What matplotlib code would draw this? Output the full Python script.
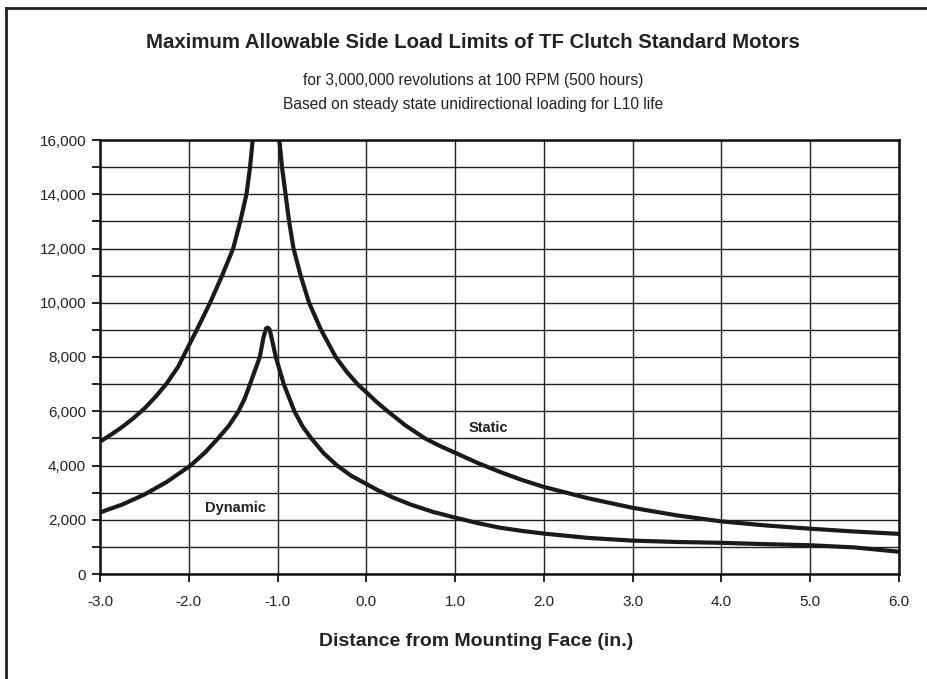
import matplotlib
matplotlib.use("Agg")
import matplotlib.pyplot as plt
from matplotlib.lines import Line2D
from matplotlib.ticker import MultipleLocator, FuncFormatter

plt.rcParams['font.family'] = ['Liberation Sans', 'DejaVu Sans']

# static curve, left branch (rises off the top of the chart)
static_left_x = [-3.0, -2.875, -2.75, -2.625, -2.5, -2.375, -2.25, -2.12, -2.0, -1.91,
                 -1.76, -1.625, -1.5, -1.42, -1.35, -1.31, -1.28]
static_left_y = [4880, 5140, 5420, 5740, 6100, 6530, 7020, 7640, 8420, 9000,
                 10000, 11000, 12000, 13000, 14000, 15000, 16000]

# static curve, right branch
static_right_x = [-0.98, -0.95, -0.91, -0.87, -0.82, -0.74, -0.645, -0.51, -0.345,
                  -0.22, -0.1, 0.0, 0.12, 0.24, 0.44, 0.66, 0.83, 1.0, 1.25, 1.5,
                  1.75, 2.0, 2.5, 3.0, 3.5, 4.0, 4.5, 5.0, 5.5, 6.0]
static_right_y = [16000, 15000, 14000, 13000, 12000, 11000, 10000, 9000, 8000,
                  7450, 7000, 6700, 6330, 6000, 5480, 5000, 4720, 4470, 4100, 3770,
                  3470, 3210, 2790, 2440, 2160, 1940, 1790, 1670, 1565, 1480]

# dynamic curve
dynamic_x = [-3.0, -2.75, -2.5, -2.25, -1.98, -1.82, -1.67, -1.55, -1.44, -1.37,
             -1.31, -1.2, -1.16, -1.13, -1.11, -1.09, -1.06, -1.02, -0.93, -0.81,
             -0.72, -0.62, -0.48, -0.33, -0.17, 0.0, 0.14, 0.3, 0.5, 0.75, 1.0,
             1.25, 1.5, 1.75, 2.0, 2.5, 3.0, 3.5, 4.0, 4.5, 5.0, 5.5, 6.0]
dynamic_y = [2270, 2560, 2930, 3390, 4000, 4470, 5000, 5460, 6000, 6470,
             7000, 8000, 8700, 9050, 9080, 9020, 8600, 8000, 7000, 6000,
             5450, 5000, 4450, 4000, 3620, 3320, 3070, 2820, 2560, 2290, 2080,
             1880, 1710, 1590, 1490, 1330, 1230, 1180, 1150, 1100, 1060, 980, 820]

x_ticks = [-3.0, -2.0, -1.0, 0.0, 1.0, 2.0, 3.0, 4.0, 5.0, 6.0]

fig = plt.figure(figsize=(9.27, 6.79), dpi=100)
ax = fig.add_axes([100 / 927, 1 - 574 / 679, 799 / 927, 434 / 679])

ax.set_xlim(-3, 6)
ax.set_ylim(0, 16000)
ax.set_xticks(x_ticks)
ax.xaxis.set_major_formatter(FuncFormatter(lambda v, p: f"{v:.1f}"))
ax.yaxis.set_major_locator(MultipleLocator(2000))
ax.yaxis.set_minor_locator(MultipleLocator(1000))
ax.yaxis.set_major_formatter(FuncFormatter(lambda v, p: f"{int(v):,}"))

ax.grid(True, which='both', axis='y', color='#222222', lw=1.0)
ax.grid(True, which='major', axis='x', color='#222222', lw=1.0)
ax.set_axisbelow(True)

for s in ax.spines.values():
    s.set_linewidth(1.8)
    s.set_color('#111111')

ax.tick_params(axis='both', which='both', direction='out', length=6, width=1.3,
               color='#111111', labelsize=11, labelcolor='#222222')
ax.tick_params(axis='x', pad=9)
ax.tick_params(axis='y', pad=4)

lw = 3.0
for xs, ys in [(static_left_x, static_left_y), (static_right_x, static_right_y),
               (dynamic_x, dynamic_y)]:
    ax.plot(xs, ys, color='#1a1a1a', lw=lw, solid_capstyle='butt', solid_joinstyle='round')

ax.text(1.37, 5400, "Static", fontsize=10.5, fontweight='bold', color='#222222',
        ha='center', va='center')
ax.text(-1.48, 2440, "Dynamic", fontsize=10.5, fontweight='bold', color='#222222',
        ha='center', va='center')

cx = 473 / 927
fig.text(476 / 927, 1 - 641 / 679, "Distance from Mounting Face (in.)", fontsize=14,
         fontweight='bold', color='#222222', ha='center', va='center')
fig.text(cx, 1 - 43 / 679, "Maximum Allowable Side Load Limits of TF Clutch Standard Motors",
         fontsize=14.7, fontweight='bold', color='#222222', ha='center', va='center')
fig.text(cx, 1 - 81 / 679, "for 3,000,000 revolutions at 100 RPM (500 hours)",
         fontsize=11.2, color='#222222', ha='center', va='center')
fig.text(cx, 1 - 104 / 679, "Based on steady state unidirectional loading for L10 life",
         fontsize=11.2, color='#222222', ha='center', va='center')

# outer frame (top and left edges)
fig.add_artist(Line2D([6 / 927, 1.0], [1 - 8 / 679, 1 - 8 / 679], color='#222222', lw=2.0))
fig.add_artist(Line2D([6 / 927, 6 / 927], [0.0, 1 - 8 / 679], color='#222222', lw=2.0))

fig.savefig("out.png", dpi=100)
